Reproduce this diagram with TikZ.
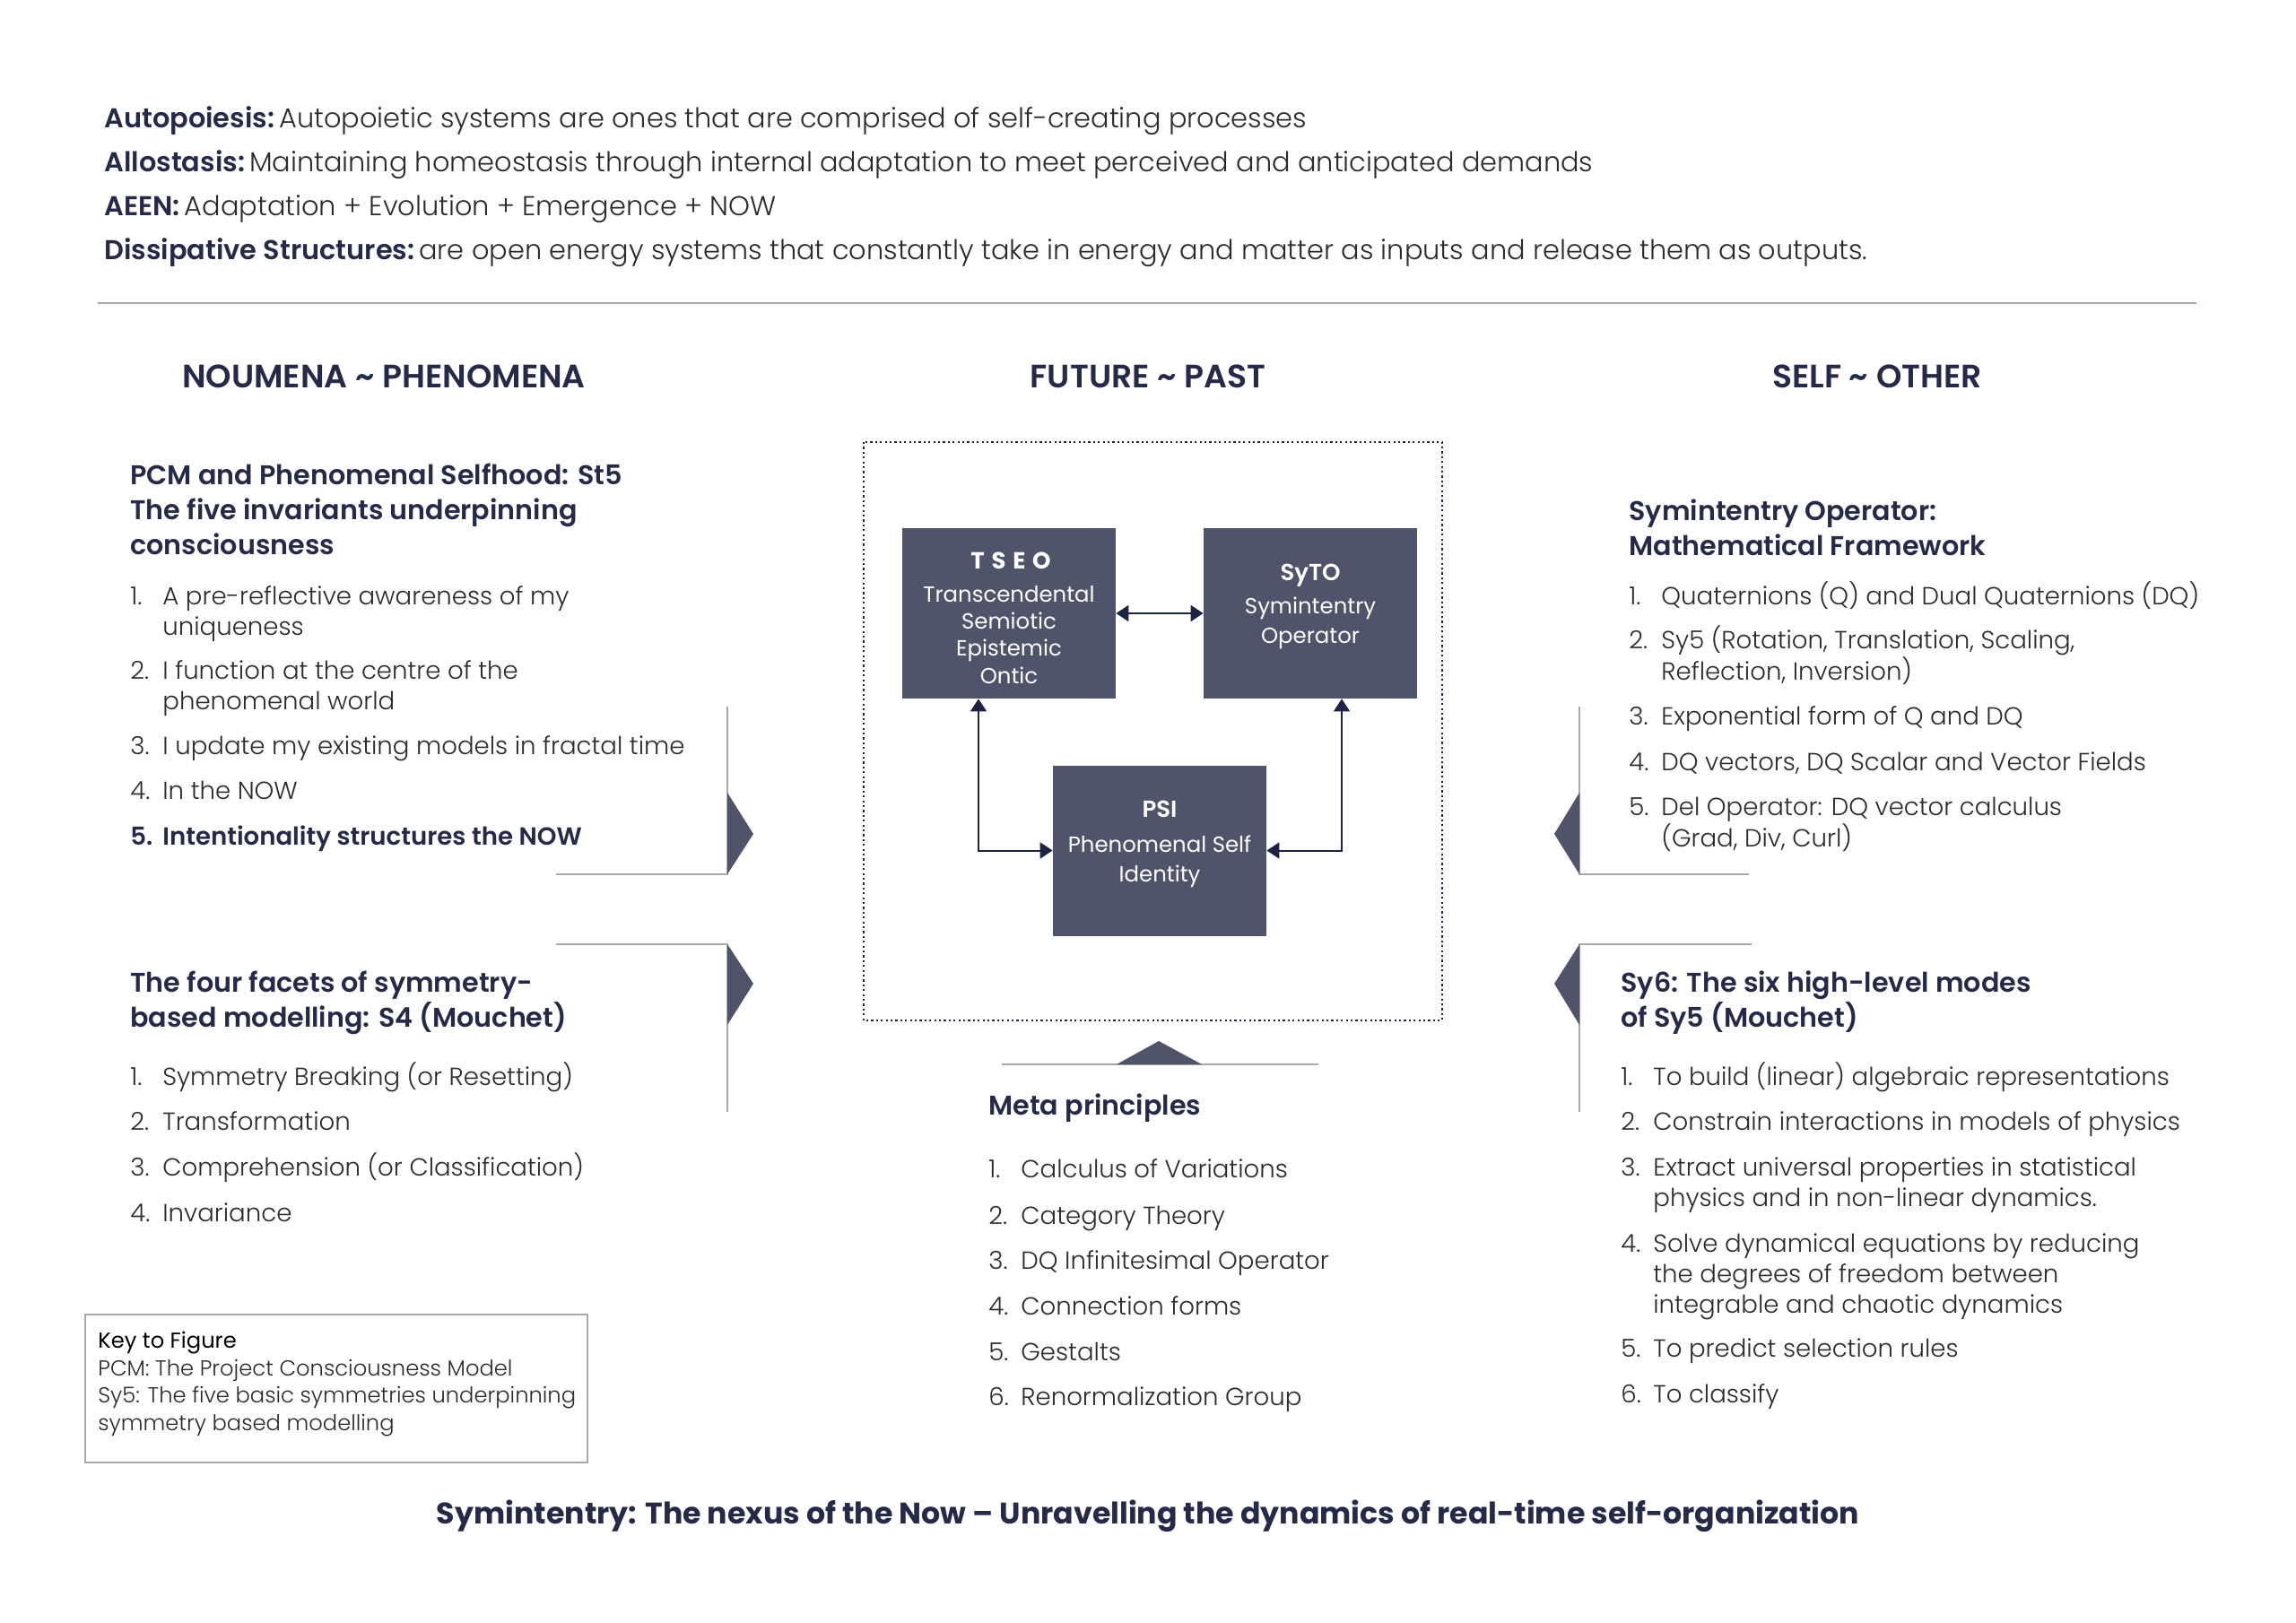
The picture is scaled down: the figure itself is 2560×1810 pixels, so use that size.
\documentclass[tikz,border=0pt]{standalone}
\usepackage{fontspec}
\setmainfont{Poppins}[UprightFont={* Light}, BoldFont={* SemiBold}]
\newfontfamily\pregular{Poppins}[Ligatures=TeX]
\newfontfamily\pmedium{Poppins Medium}[Ligatures=TeX]
\newfontfamily\pbold{Poppins Bold}[Ligatures=TeX]
\usetikzlibrary{arrows.meta}
\definecolor{navy}{HTML}{252A48}
\definecolor{boxc}{HTML}{4F546B}
\definecolor{bodyc}{HTML}{2B2B2B}
\definecolor{linegray}{HTML}{A8A8A8}
\definecolor{arrowc}{HTML}{1E2344}
\newcommand{\ltab}[1]{\begin{tabular}[t]{@{}l@{}}#1\end{tabular}}
\newcommand{\itm}[6]{%
  \node[txt] (#1n) at (#2,#4) {#5};
  \node[txt] (#1) at (#3,#4) {\ltab{#6}};}
\begin{document}
\begin{tikzpicture}[x=0.5pt,y=-0.5pt,
  txt/.style={inner sep=0pt, anchor=base west, text=bodyc, font=\fontsize{13.8}{17}\selectfont},
  ttl/.style={inner sep=0pt, anchor=base west, text=navy, font=\fontsize{15.1}{19.5}\selectfont\bfseries},
  hdr/.style={inner sep=0pt, anchor=base, text=navy, font=\fontsize{18.1}{20}\selectfont\bfseries},
  deftxt/.style={inner sep=0pt, anchor=base west, text=bodyc, font=\fontsize{15.2}{18}\selectfont},
  boxn/.style={fill=boxc, minimum width=119pt, minimum height=95pt, inner sep=0pt, draw=none},
  btxt/.style={inner sep=0pt, anchor=base, text=white, font=\fontsize{12.2}{15}\selectfont\pregular},
  btitle/.style={inner sep=0pt, anchor=base, text=white, font=\fontsize{13}{15}\selectfont\bfseries},
  conn/.style={draw=arrowc, line width=1pt, {Triangle[length=7pt,width=9pt]}-{Triangle[length=7pt,width=9pt]}},
  gline/.style={draw=linegray, line width=1pt},
  tri/.style={fill=boxc},
  keytxt/.style={inner sep=0pt, anchor=base west, text=bodyc, font=\fontsize{12.1}{15}\selectfont}
]
\useasboundingbox (0,0) rectangle (2560,1810);
\fill[white] (0,0) rectangle (2560,1810);

% top definitions
\node[deftxt] (d1) at (116,142) {\textcolor{navy}{\bfseries Autopoiesis:}\,Autopoietic systems are ones that are comprised of self-creating processes};
\node[deftxt] (d2) at (116,191) {\textcolor{navy}{\bfseries Allostasis:}\,Maintaining homeostasis through internal adaptation to meet perceived and anticipated demands};
\node[deftxt] (d3) at (116,240) {\textcolor{navy}{\bfseries AEEN:}\,Adaptation + Evolution + Emergence + NOW};
\node[deftxt] (d4) at (116,289) {\textcolor{navy}{\bfseries Dissipative Structures:}\,are open energy systems that constantly take in energy and matter as inputs and release them as outputs.};
\draw[gline] (109,338) -- (2449,338);

% headers
\node[hdr] (h1) at (428,432) {NOUMENA \textasciitilde{} PHENOMENA};
\node[hdr] (h2) at (1280,432) {FUTURE \textasciitilde{} PAST};
\node[hdr] (h3) at (2093,432) {SELF \textasciitilde{} OTHER};

% left block 1
\node[ttl] (l1t) at (145,540) {\ltab{PCM and Phenomenal Selfhood: St5\\The five invariants underpinning\\consciousness}};
\itm{l1a}{145}{181}{674}{1.}{A pre-reflective awareness of my\\uniqueness}
\itm{l1b}{145}{181}{757}{2.}{I function at the centre of the\\phenomenal world}
\itm{l1c}{145}{181}{841}{3.}{I update my existing models in fractal time}
\itm{l1d}{145}{181}{891}{4.}{In the NOW}
\itm{l1e}{145}{181}{942}{\textcolor{navy}{\bfseries 5.}}{\textcolor{navy}{\bfseries Intentionality structures the NOW}}

% left block 2
\node[ttl] (l2t) at (145,1106) {\ltab{The four facets of symmetry-\\based modelling: S4 (Mouchet)}};
\itm{l2a}{145}{181}{1210}{1.}{Symmetry Breaking (or Resetting)}
\itm{l2b}{145}{181}{1260}{2.}{Transformation}
\itm{l2c}{145}{181}{1311}{3.}{Comprehension (or Classification)}
\itm{l2d}{145}{181}{1362}{4.}{Invariance}

% right block 1
\node[ttl] (r1t) at (1816,580) {\ltab{Symintentry Operator:\\Mathematical Framework}};
\itm{r1a}{1816}{1852}{674}{1.}{Quaternions (Q) and Dual Quaternions (DQ)}
\itm{r1b}{1816}{1852}{723}{2.}{Sy5 (Rotation, Translation, Scaling,\\Reflection, Inversion)}
\itm{r1c}{1816}{1852}{808}{3.}{Exponential form of Q and DQ}
\itm{r1d}{1816}{1852}{859}{4.}{DQ vectors, DQ Scalar and Vector Fields}
\itm{r1e}{1816}{1852}{909}{5.}{Del Operator: DQ vector calculus\\(Grad, Div, Curl)}

% right block 2
\node[ttl] (r2t) at (1807,1106) {\ltab{Sy6: The six high-level modes\\of Sy5 (Mouchet)}};
\itm{r2a}{1807}{1843}{1210}{1.}{To build (linear) algebraic representations}
\itm{r2b}{1807}{1843}{1260}{2.}{Constrain interactions in models of physics}
\itm{r2c}{1807}{1843}{1311}{3.}{Extract universal properties in statistical\\physics and in non-linear dynamics.}
\itm{r2d}{1807}{1843}{1396}{4.}{Solve dynamical equations by reducing\\the degrees of freedom between\\integrable and chaotic dynamics}
\itm{r2e}{1807}{1843}{1513}{5.}{To predict selection rules}
\itm{r2f}{1807}{1843}{1564}{6.}{To classify}

% meta principles
\node[ttl] (mt) at (1102,1243) {Meta principles};
\itm{ma}{1102}{1138}{1313}{1.}{Calculus of Variations}
\itm{mb}{1102}{1138}{1365}{2.}{Category Theory}
\itm{mc}{1102}{1138}{1415}{3.}{DQ Infinitesimal Operator}
\itm{md}{1102}{1138}{1466}{4.}{Connection forms}
\itm{me}{1102}{1138}{1517}{5.}{Gestalts}
\itm{mf}{1102}{1138}{1567}{6.}{Renormalization Group}

% brackets
\draw[gline] (811,788) -- (811,975) -- (620,975);
\fill[tri] (811,884) -- (840,930) -- (811,975) -- cycle;
\draw[gline] (620,1053) -- (811,1053) -- (811,1240);
\fill[tri] (811,1053) -- (840,1097) -- (811,1143) -- cycle;
\draw[gline] (1761,788) -- (1761,975) -- (1950,975);
\fill[tri] (1761,884) -- (1733,930) -- (1761,975) -- cycle;
\draw[gline] (1953,1053) -- (1761,1053) -- (1761,1240);
\fill[tri] (1761,1053) -- (1733,1097) -- (1761,1143) -- cycle;

% centre diagram
\draw[draw=arrowc, line width=1.1pt, dash pattern=on 1.1pt off 1.6pt] (963,493) rectangle (1608,1138);
\node[boxn] (tseo) at (1125,684) {};
\node[boxn] (syto) at (1461,684) {};
\node[boxn] (psi) at (1293,948.5) {};
\node[btitle, font=\fontsize{13}{15}\selectfont\pbold\addfontfeature{LetterSpace=30}] (tseo1) at (1127,634) {TSEO};
\node[btxt] (tseo2) at (1125,671) {Transcendental};
\node[btxt] (tseo3) at (1125,701) {Semiotic};
\node[btxt] (tseo4) at (1125,731) {Epistemic};
\node[btxt] (tseo5) at (1125,762) {Ontic};
\node[btitle] (syto1) at (1461,647) {SyTO};
\node[btxt] (syto2) at (1461,684) {Symintentry};
\node[btxt] (syto3) at (1461,717) {Operator};
\node[btitle] (psi1) at (1293,911) {PSI};
\node[btxt] (psi2) at (1293,950) {Phenomenal Self};
\node[btxt] (psi3) at (1293,983) {Identity};
\draw[conn] (tseo.east) -- (syto.west);
\draw[conn] ([xshift=-17pt]tseo.south) |- (psi.west);
\draw[conn] ([xshift=17.5pt]syto.south) |- (psi.east);

\draw[gline] (1117,1187) -- (1470,1187);
\fill[tri] (1245,1187) -- (1292,1161) -- (1340,1187) -- cycle;

% key
\draw[draw=linegray, line width=1pt] (95,1466) rectangle (655,1631);
\node[keytxt, text=black, font=\fontsize{12.1}{15}\selectfont\pregular] (k1) at (109,1503) {Key to Figure};
\node[keytxt] (k2) at (109,1534) {PCM: The Project Consciousness Model};
\node[keytxt] (k3) at (109,1564) {Sy5: The five basic symmetries underpinning};
\node[keytxt] (k4) at (109,1595) {symmetry based modelling};

% bottom title
\node[inner sep=0pt, anchor=base, text=navy, font=\fontsize{16.6}{18}\selectfont\pbold] (bt) at (1280,1699) {Symintentry: The nexus of the Now – Unravelling the dynamics of real-time self-organization};
\end{tikzpicture}
\end{document}
